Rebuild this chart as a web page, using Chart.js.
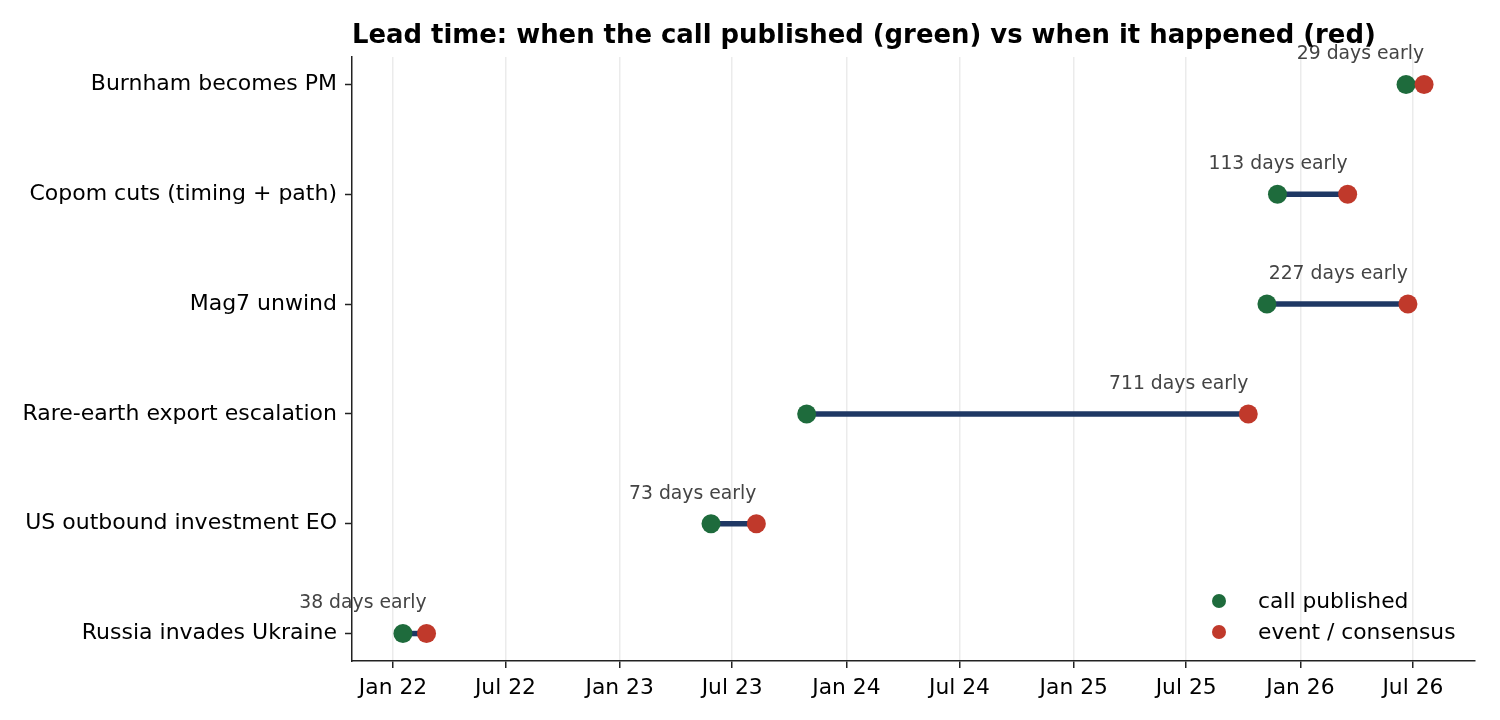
<!DOCTYPE html>
<html>
<head>
<meta charset="utf-8">
<script src="https://cdn.jsdelivr.net/npm/chart.js@4.4.1/dist/chart.umd.min.js"></script>
<style>
  html, body { margin: 0; padding: 0; background: #fff; }
  #wrap { width: 1500px; height: 720px; position: relative; }
</style>
</head>
<body>
<div id="wrap"><canvas id="leadChart"></canvas></div>
<script>
"use strict";

// rows, bottom to top
const events = [
  "Russia invades Ukraine",
  "US outbound investment EO",
  "Rare-earth export escalation",
  "Mag7 unwind",
  "Copom cuts (timing + path)",
  "Burnham becomes PM",
];
const callDates = ["2022-01-17", "2023-05-28", "2023-10-29", "2025-11-08", "2025-11-25", "2026-06-20"];
const eventDates = ["2022-02-24", "2023-08-09", "2025-10-09", "2026-06-23", "2026-03-18", "2026-07-19"];
const leadDays = [38, 73, 711, 227, 113, 29];

const tickDates = [
  "2022-01-01", "2022-07-01", "2023-01-01", "2023-07-01", "2024-01-01",
  "2024-07-01", "2025-01-01", "2025-07-01", "2026-01-01", "2026-07-01",
];
const tickLabels = [
  "Jan 22", "Jul 22", "Jan 23", "Jul 23", "Jan 24",
  "Jul 24", "Jan 25", "Jul 25", "Jan 26", "Jul 26",
];
const xMinDate = "2021-10-27";
const xMaxDate = "2026-10-09";

const GREEN = "#1e6b3c";
const RED = "#c0392b";
const NAVY = "#1f3864";
const FONT = "'DejaVu Sans', sans-serif";

// days since 1 Jan 2022
function dayOf(s) {
  const [y, m, d] = s.split("-").map(Number);
  return (Date.UTC(y, m - 1, d) - Date.UTC(2022, 0, 1)) / 86400000;
}

const tickValues = tickDates.map(dayOf);

const lineSets = events.map((name, i) => ({
  type: "scatter",
  label: "span " + i,
  showLine: true,
  data: [
    { x: dayOf(callDates[i]), y: i },
    { x: dayOf(eventDates[i]), y: i },
  ],
  borderColor: NAVY,
  borderWidth: 5.5,
  pointRadius: 0,
  pointHoverRadius: 0,
  order: 2,
}));

const callSet = {
  label: "call published",
  data: events.map((n, i) => ({ x: dayOf(callDates[i]), y: i })),
  backgroundColor: GREEN,
  borderColor: GREEN,
  borderWidth: 0,
  pointRadius: 9.5,
  order: 1,
};

const eventSet = {
  label: "event / consensus",
  data: events.map((n, i) => ({ x: dayOf(eventDates[i]), y: i })),
  backgroundColor: RED,
  borderColor: RED,
  borderWidth: 0,
  pointRadius: 9.5,
  order: 0,
};

// title, "N days early" notes and legend
const extras = {
  id: "extras",
  afterDatasetsDraw(chart) {
    const { ctx, scales, chartArea } = chart;
    ctx.save();
    ctx.fillStyle = "#444";
    ctx.font = "18.8px " + FONT;
    ctx.textAlign = "right";
    ctx.textBaseline = "middle";
    events.forEach((n, i) => {
      const x = scales.x.getPixelForValue(dayOf(eventDates[i]));
      const y = scales.y.getPixelForValue(i) - 30;
      ctx.fillText(leadDays[i] + " days early", x, y);
    });

    ctx.fillStyle = "#000";
    ctx.font = "bold 25.9px " + FONT;
    ctx.textAlign = "left";
    ctx.fillText("Lead time: when the call published (green) vs when it happened (red)", chartArea.left, 36);

    const items = [[callSet.label, GREEN], [eventSet.label, RED]];
    ctx.font = "21.8px " + FONT;
    items.forEach(([label, col], k) => {
      const y = 601 + k * 31;
      ctx.beginPath();
      ctx.arc(1219, y, 7, 0, Math.PI * 2);
      ctx.fillStyle = col;
      ctx.fill();
      ctx.fillStyle = "#000";
      ctx.fillText(label, 1258, y + 1);
    });
    ctx.restore();
  },
};

new Chart(document.getElementById("leadChart"), {
  type: "scatter",
  data: { datasets: [...lineSets, callSet, eventSet] },
  plugins: [extras],
  options: {
    responsive: true,
    maintainAspectRatio: false,
    animation: false,
    layout: { padding: { top: 57, right: 25, left: 0, bottom: 0 } },
    plugins: {
      legend: { display: false },
      title: { display: false },
      tooltip: { enabled: false },
    },
    scales: {
      x: {
        type: "linear",
        min: dayOf(xMinDate),
        max: dayOf(xMaxDate),
        afterBuildTicks: (scale) => {
          scale.ticks = tickValues.map((v) => ({ value: v }));
        },
        afterFit: (scale) => { scale.height = 59; },
        ticks: {
          autoSkip: false,
          maxRotation: 0,
          padding: 7,
          color: "#000",
          font: { family: FONT, size: 21.8 },
          callback: (v) => {
            const k = tickValues.indexOf(v);
            return k >= 0 ? tickLabels[k] : "";
          },
        },
        grid: {
          color: "#ebebeb",
          lineWidth: 1.5,
          tickColor: "#222",
          tickLength: 7,
          tickWidth: 1.5,
        },
        border: { display: true, color: "#222", width: 1.5 },
      },
      y: {
        type: "linear",
        min: -0.25,
        max: 5.25,
        afterBuildTicks: (scale) => {
          scale.ticks = events.map((n, i) => ({ value: i }));
        },
        afterFit: (scale) => { scale.width = 352; },
        ticks: {
          autoSkip: false,
          padding: 8,
          color: "#000",
          font: { family: FONT, size: 22 },
          callback: (v) => events[v] || "",
        },
        grid: {
          drawOnChartArea: false,
          tickColor: "#222",
          tickLength: 7,
          tickWidth: 1.5,
        },
        border: { display: true, color: "#222", width: 1.5 },
      },
    },
  },
});
</script>
</body>
</html>
